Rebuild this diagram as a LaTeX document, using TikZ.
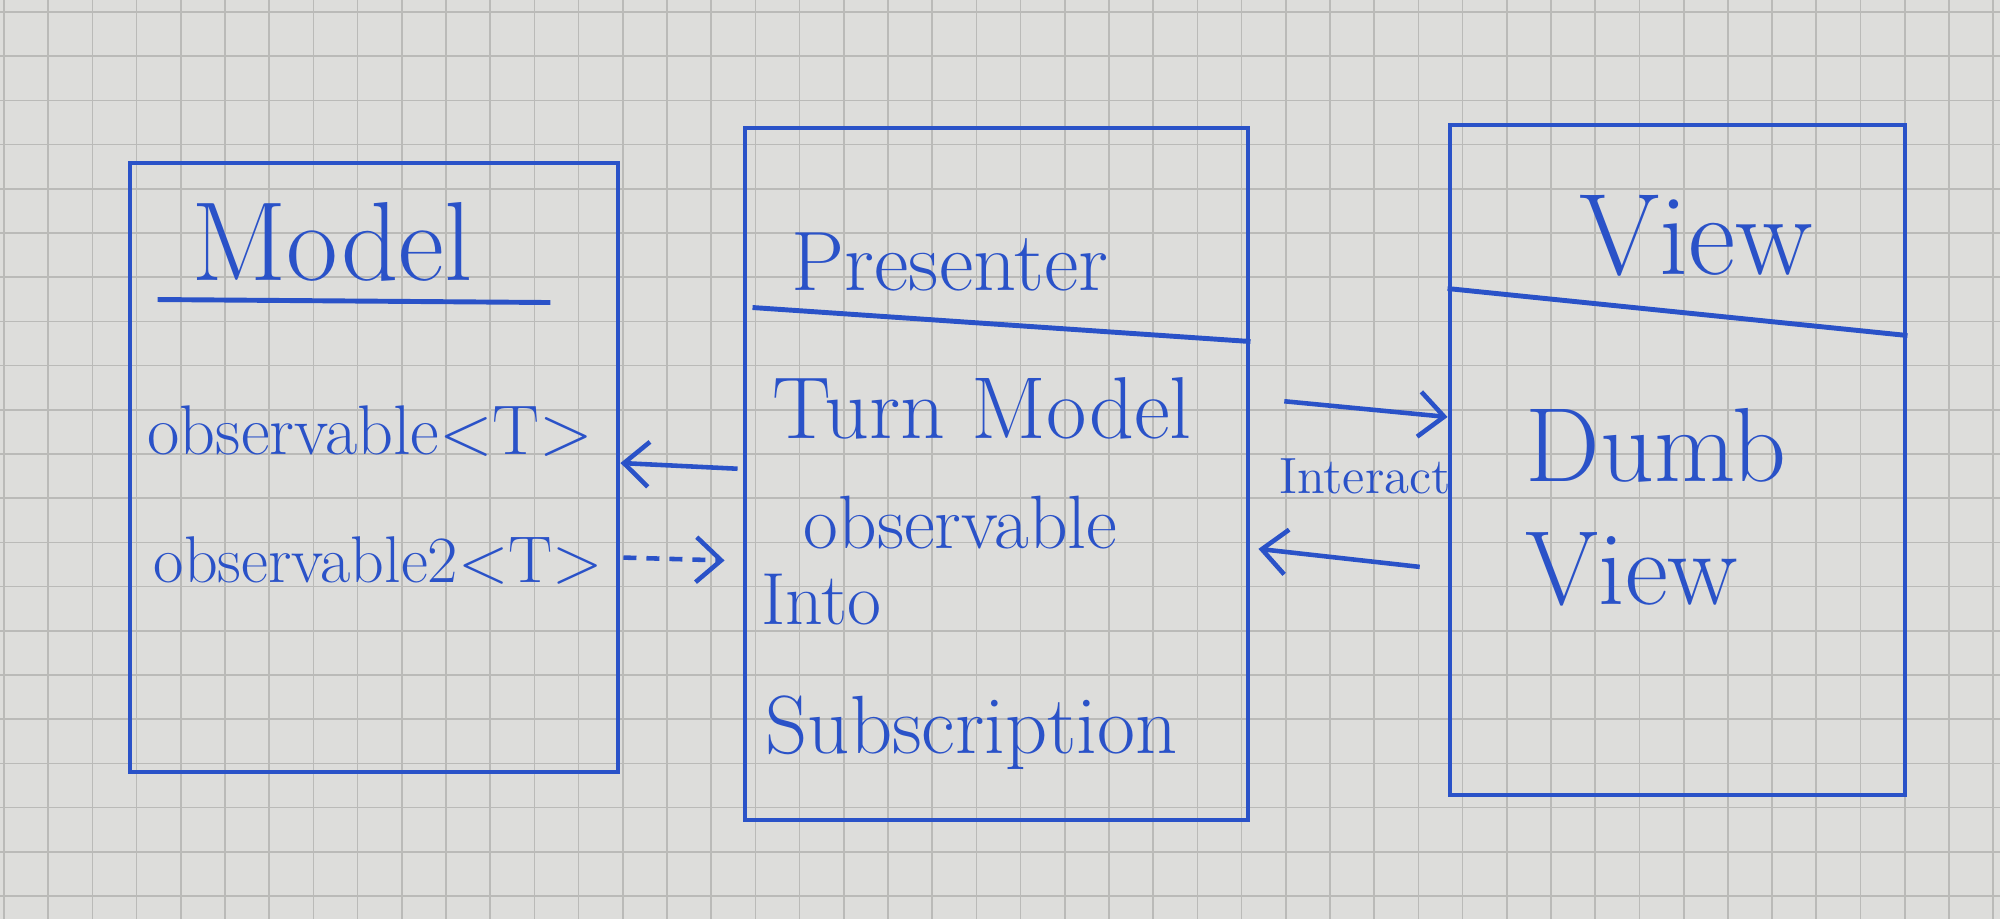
\documentclass[tikz,border=0pt]{standalone}
\usetikzlibrary{arrows.meta,calc}
\definecolor{ink}{RGB}{42,82,200}
\definecolor{paper}{RGB}{221,221,219}
\definecolor{gridline}{RGB}{186,186,184}
\tikzset{box/.style={draw=ink,line width=1.4pt,rectangle,inner sep=0pt},sep/.style={draw=ink,line width=1.4pt}}
\tikzset{arr/.style={draw=ink,line width=1.3pt,-{Straight Barb[length=2.5mm,width=4.5mm]}}}
\tikzset{title/.style={text=ink,inner sep=0pt,font=\fontsize{32}{36}\selectfont},item/.style={text=ink,inner sep=0pt,anchor=west,font=\fontsize{21}{25}\selectfont}}
\begin{document}
\begin{tikzpicture}
  \fill[paper] (0,0) rectangle (20,-9.19);
  \useasboundingbox (0,0) rectangle (20,-9.19);
  \foreach \x in {0,...,45} \draw[gridline,line width=.5pt] (0.04+0.442*\x,0) -- (0.04+0.442*\x,-9.19);
  \foreach \y in {0,...,20} \draw[gridline,line width=.5pt] (0,-0.12-0.442*\y) -- (20,-0.12-0.442*\y);
  \node[box,minimum width=4.88cm,minimum height=6.09cm] (model) at (3.74,-4.675) {};
  \node[box,minimum width=5.03cm,minimum height=6.92cm] (pres) at (9.965,-4.74) {};
  \node[box,minimum width=4.55cm,minimum height=6.70cm] (view) at (16.775,-4.60) {};
  \draw[sep] ([shift={(0.30,-1.39)}]model.north west) -- ([shift={(-0.70,-1.42)}]model.north east);
  \draw[sep] ([shift={(0.10,-1.82)}]pres.north west) -- ([shift={(0,-2.16)}]pres.north east);
  \draw[sep] ([shift={(0,-1.66)}]view.north west) -- ([shift={(0,-2.13)}]view.north east);
  \node[title] (modelname) at (3.32,-2.42) {Model};
  \node[item,font=\fontsize{20}{24}\selectfont] (obsone) at (1.47,-4.31) {observable<T>};
  \node[item,font=\fontsize{18.8}{22}\selectfont] (obstwo) at (1.53,-5.61) {observable2<T>};
  \node[title,font=\fontsize{24}{28}\selectfont] (presname) at (9.50,-2.62) {Presenter};
  \node[item,font=\fontsize{25}{29}\selectfont] (turn) at (7.72,-4.08) {Turn Model};
  \node[item,font=\fontsize{21.5}{25}\selectfont] (obs) at (8.03,-5.23) {observable};
  \node[item] (into) at (7.61,-6.00) {Into};
  \node[item,font=\fontsize{23.5}{27}\selectfont] (subs) at (7.65,-7.33) {Subscription};
  \node[title,font=\fontsize{33}{37}\selectfont] (viewname) at (16.96,-2.36) {View};
  \node[item,align=left,font=\fontsize{30}{35}\selectfont] (dumb) at (15.25,-5.07) {Dumb\\View};
  \node[text=ink,font=\fontsize{14.5}{17}\selectfont] (interact) at (13.65,-4.76) {Interact};
  \draw[arr,shorten <=0.05cm] ([yshift=0.05cm]pres.west) -- ([yshift=0.045cm]model.east);
  \draw[arr,dash pattern=on 0.13cm off 0.1cm,shorten <=0.03cm,shorten >=0.18cm] ([yshift=-0.9cm]model.east) -- ([yshift=-0.87cm]pres.west);
  \draw[arr,shorten <=0.34cm] ([yshift=0.76cm]pres.east) -- ([yshift=0.43cm]view.west);
  \draw[arr,shorten <=0.28cm,shorten >=0.08cm] ([yshift=-1.10cm]view.west) -- ([yshift=-0.74cm]pres.east);
\end{tikzpicture}
\end{document}
